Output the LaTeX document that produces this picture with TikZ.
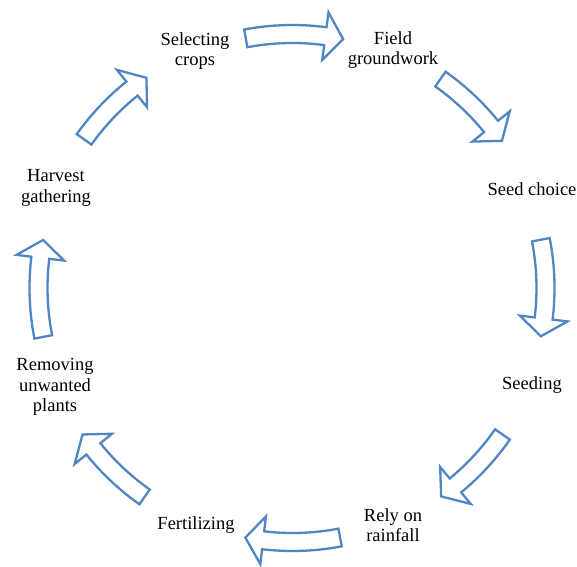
\documentclass[tikz,border=0pt]{standalone}
\usepackage{fontspec}
\setmainfont{Liberation Serif}
\usetikzlibrary{calc}
\definecolor{arrowblue}{RGB}{80,134,196}

\tikzset{
  stage/.style={align=center, inner sep=0pt, text=black,
    font=\fontsize{18.5}{20.5}\selectfont},
  ringarrow/.style={draw=arrowblue, line width=2.3pt, fill=white, line join=miter},
}

% Hollow block arrow bent along a circle round (hub), running clockwise
% #1 tail angle, #2 tip angle, #3 radius (pt)
\newcommand{\ringarrow}[3]{%
  \pgfmathsetmacro{\hb}{#2+18/#3*57.2958}%
  \draw[ringarrow]
    ($(hub)+(#1:{#3pt+9pt})$)
      arc[start angle=#1, end angle=\hb, radius={#3pt+9pt}]
    -- ($(hub)+(\hb:{#3pt+24pt})$)
    -- ($(hub)+(#2:{#3pt})$)
    -- ($(hub)+(\hb:{#3pt-24pt})$)
    -- ($(hub)+(\hb:{#3pt-9pt})$)
      arc[start angle=\hb, end angle=#1, radius={#3pt-9pt}]
    -- cycle;}

\begin{document}
\begin{tikzpicture}[x=1pt, y=1pt]
  \useasboundingbox (0,0) rectangle (577,566);
  \coordinate (hub) at (292.5,278);

  % stages of the cycle
  \node[stage] (sel)     at (195,515) {Selecting\\crops};
  \node[stage] (field)   at (393,516) {Field\\groundwork};
  \node[stage] (seedch)  at (532,377) {Seed choice};
  \node[stage] (seeding) at (532,181) {Seeding};
  \node[stage] (rely)    at (393,41)  {Rely on\\rainfall};
  \node[stage] (fert)    at (196,41)  {Fertilizing};
  \node[stage] (remove)  at (55,179)  {Removing\\unwanted\\plants};
  \node[stage] (harvest) at (56,378)  {Harvest\\gathering};

  % arrows between consecutive stages
  \ringarrow{100.6}{78.5}{254}
  \ringarrow{54.7}{35.1}{256}
  \ringarrow{11.0}{-11.0}{253}
  \ringarrow{-34.9}{-54.5}{256}
  \ringarrow{-79.2}{-100.7}{254}
  \ringarrow{234.7}{214.9}{256}
  \ringarrow{191.1}{169.1}{254}
  \ringarrow{144.5}{124.8}{256}
\end{tikzpicture}
\end{document}
